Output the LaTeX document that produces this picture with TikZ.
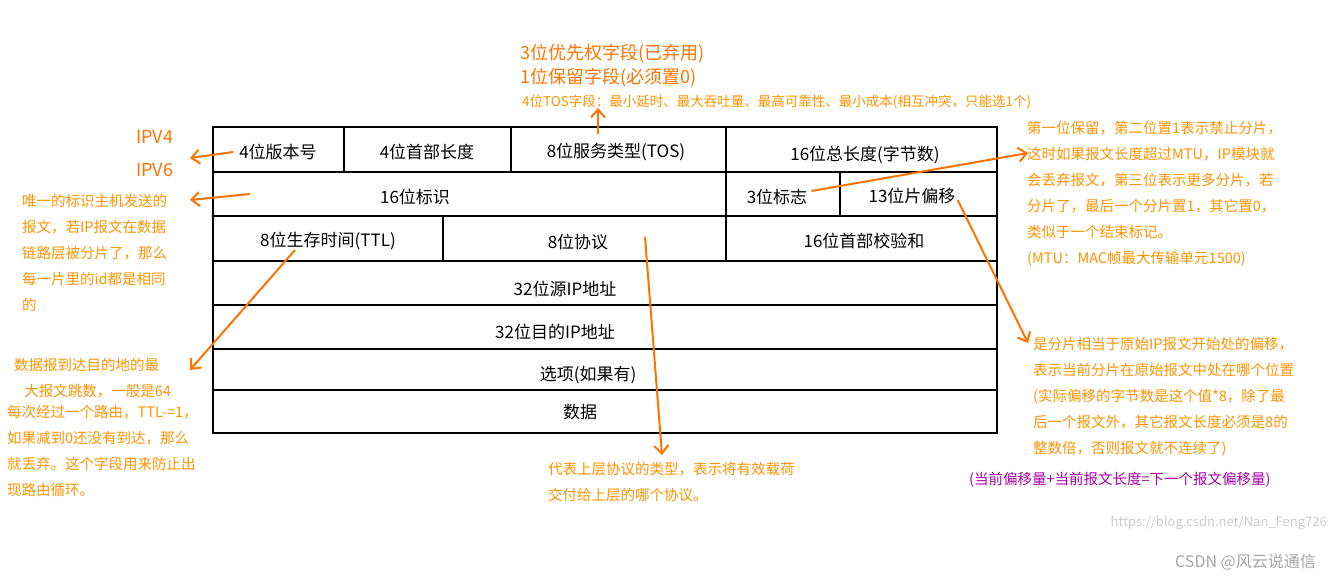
\documentclass[tikz,border=0pt]{standalone}
\usepackage{fontspec}
\setmainfont{Noto Sans CJK SC}
\begin{document}
\begin{tikzpicture}[x=1pt,y=-1pt,
  cell/.style={font=\fontsize{17}{17}\selectfont, inner sep=0pt},
  ann/.style={font=\fontsize{14.5}{26}\selectfont, text=orange!85!yellow, inner sep=0pt, align=left, anchor=north west},
  big/.style={font=\fontsize{18}{22}\selectfont, text=orange!90!red, inner sep=0pt, anchor=west},
  arr/.style={draw=orange!90!red, line width=2pt, ->, >={Straight Barb[length=8pt,width=14pt]}},
  grid/.style={line width=2pt}]
\usetikzlibrary{arrows.meta}
\useasboundingbox (0,0) rectangle (1331,581);
% table
\draw[grid] (213,127) rectangle (997,433);
\foreach \y in {172,216,261,305,349,390} \draw[grid] (213,\y) -- (997,\y);
\draw[grid] (344,127) -- (344,172) (511,127) -- (511,172) (726,127) -- (726,261);
\draw[grid] (840,172) -- (840,216) (443,216) -- (443,261);
\node[cell] (ver) at (278,152) {4位版本号};
\node[cell] (hl) at (427,152) {4位首部长度};
\node[cell] (tos) at (616,152) {8位服务类型(TOS)};
\node[cell] (tl) at (865,155) {16位总长度(字节数)};
\node[cell] (id) at (415,197) {16位标识};
\node[cell] (flag) at (777,197) {3位标志};
\node[cell] (frag) at (912,196) {13位片偏移};
\node[cell] (ttl) at (328,241) {8位生存时间(TTL)};
\node[cell] (proto) at (578,242) {8位协议};
\node[cell] (cks) at (864,241) {16位首部校验和};
\node[cell] (src) at (565,289) {32位源IP地址};
\node[cell] (dst) at (555,332) {32位目的IP地址};
\node[cell] (opt) at (588,375) {选项(如果有)};
\node[cell] (data) at (580,412) {数据};
% top
\node[big] (t1) at (520,54) {3位优先权字段(已弃用)};
\node[big] (t2) at (520,78) {1位保留字段(必须置0)};
\node[ann, font=\fontsize{13.5}{16}\selectfont, anchor=west] (t3) at (522,102) {4位TOS字段：最小延时、最大吞吐量、最高可靠性、最小成本(相互冲突，只能选1个)};
% left
\node[big] (v4) at (136,137) {IPV4};
\node[big] (v6) at (136,170) {IPV6};
\node[ann] (idn) at (22,194) {唯一的标识主机发送的\\报文，若IP报文在数据\\链路层被分片了，那么\\每一片里的id都是相同\\的};
\node[ann] (ttln) at (14,358) {数据报到达目的地的最\\\hspace*{0.7em}大报文跳数，一般是64};
\node[ann] (ttln2) at (7,405) {每次经过一个路由，TTL-=1，\\如果减到0还没有到达，那么\\就丢弃。这个字段用来防止出\\现路由循环。};
% right
\node[ann] (fn) at (1027,121) {第一位保留，第二位置1表示禁止分片，\\这时如果报文长度超过MTU，IP模块就\\会丢弃报文，第三位表示更多分片，若\\分片了，最后一个分片置1，其它置0，\\类似于一个结束标记。\\(MTU：MAC帧最大传输单元1500)};
\node[ann] (fon) at (1033,337) {是分片相当于原始IP报文开始处的偏移，\\表示当前分片在原始报文中处在哪个位置\\(实际偏移的字节数是这个值*8，除了最\\后一个报文外，其它报文长度必须是8的\\整数倍，否则报文就不连续了)};
\node[ann, text=violet!70!magenta, anchor=west] (sum) at (969,480) {(当前偏移量+当前报文长度=下一个报文偏移量)};
\node[ann] (pn) at (548,462) {代表上层协议的类型，表示将有效载荷\\交付给上层的哪个协议。};
% watermarks
\node[font=\fontsize{13}{13}\selectfont, text=gray!40, anchor=east, inner sep=0pt] (wm1) at (1327,523) {https://blog.csdn.net/Nan\_Feng726};
\node[font=\fontsize{16}{16}\selectfont, text=gray!70, anchor=east, inner sep=0pt] (wm2) at (1316,562) {CSDN @风云说通信};
% arrows
\draw[arr] (ver.west) ++(-6,0) coordinate (a1) -- (190,158);
\draw[arr] (250,194) coordinate (a2) -- (190,200);
\draw[arr] (295,250) coordinate (a3) -- (190,370);
\draw[arr] (598,134) coordinate (a4) -- (598,108);
\draw[arr] (flag.east) ++(4,-6) coordinate (a5) -- (1028,153);
\draw[arr] (645,237) coordinate (a6) -- (662,455);
\draw[arr] (frag.east) ++(2,4) coordinate (a7) -- (1028,343);
\end{tikzpicture}
\end{document}
